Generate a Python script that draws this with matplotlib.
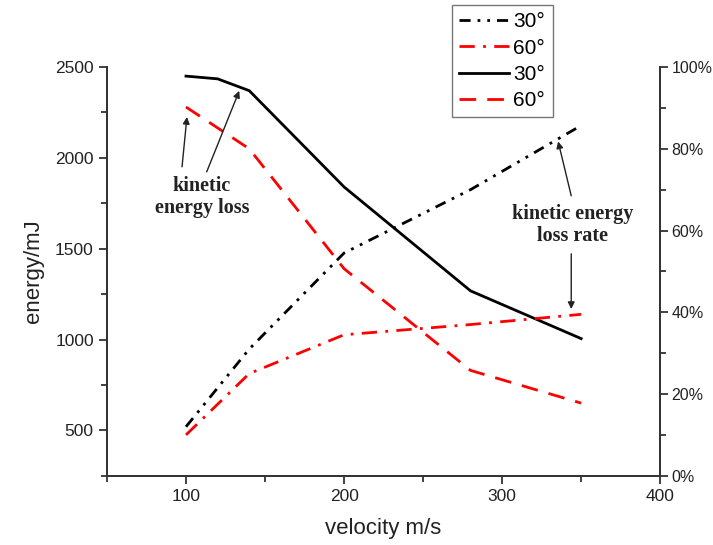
import matplotlib.pyplot as plt
from matplotlib.ticker import MultipleLocator, PercentFormatter

# energy loss (left axis, mJ)
v_loss30 = [100, 120, 140, 200, 280, 350]
loss30 = [2450, 2435, 2370, 1840, 1268, 1005]
v_loss60 = [100, 140, 200, 280, 350]
loss60 = [2280, 2050, 1390, 830, 650]

# energy loss rate (right axis, fraction)
v_rate30 = [100, 140, 200, 280, 350]
rate30 = [0.12, 0.31, 0.545, 0.70, 0.857]
v_rate60 = [100, 140, 200, 280, 350]
rate60 = [0.10, 0.25, 0.345, 0.37, 0.395]

legend_labels = ['30°', '60°', '30°', '60°']

plt.rcParams['font.family'] = ['Liberation Sans', 'DejaVu Sans']

fig = plt.figure(figsize=(7.13, 5.45), dpi=100)
ax = fig.add_axes([0.150, 0.127, 0.776, 0.750])
ax2 = ax.twinx()

lw = 2.0
l1, = ax2.plot(v_rate30, rate30, color='black', lw=lw, linestyle=(0, (4, 2.5, 1, 2.5, 1, 2.5)))
l2, = ax2.plot(v_rate60, rate60, color='red', lw=lw, linestyle=(0, (5.5, 3, 1, 3)))
l3, = ax.plot(v_loss30, loss30, color='black', lw=lw, linestyle='-')
l4, = ax.plot(v_loss60, loss60, color='red', lw=lw, linestyle=(0, (6, 4)))

ax.set_xlim(50, 400)
ax.set_ylim(250, 2500)
ax2.set_ylim(0, 1.0)

ax.xaxis.set_major_locator(MultipleLocator(100))
ax.xaxis.set_minor_locator(MultipleLocator(50))
ax.yaxis.set_major_locator(MultipleLocator(500))
ax.yaxis.set_minor_locator(MultipleLocator(250))
ax2.yaxis.set_major_locator(MultipleLocator(0.2))
ax2.yaxis.set_minor_locator(MultipleLocator(0.1))
ax2.yaxis.set_major_formatter(PercentFormatter(1.0, decimals=0))

for a in (ax, ax2):
    a.spines['top'].set_visible(False)
    for s in a.spines.values():
        s.set_color('#333333')
        s.set_linewidth(1.3)
    a.tick_params(which='major', direction='out', length=6, width=1.3, labelsize=12.5, colors='#333333')
    a.tick_params(which='minor', direction='out', length=4, width=1.3, colors='#333333')
ax.tick_params(axis='both', labelcolor='#222222')
ax2.tick_params(axis='y', labelcolor='#222222', labelsize=11.5, pad=2)

ax.set_xlabel('velocity m/s', fontsize=16, color='#222222', labelpad=10)
ax.set_ylabel('energy/mJ', fontsize=16, color='#222222', labelpad=8)

# annotations
ann_font = dict(family='Liberation Serif', weight='bold', fontsize=14.5, color='#222222')
ax.text(110, 2500 - (197 - 67) / 0.1815, 'kinetic\nenergy loss',
        ha='center', va='center', linespacing=1.15, **ann_font)
arrow = dict(arrowstyle='-|>', color='#222222', lw=1.0, mutation_scale=10, shrinkA=0, shrinkB=0)
ax.annotate('', xy=(100.6, 2225), xytext=(97.5, 1951), arrowprops=arrow)
ax.annotate('', xy=(133.7, 2369), xytext=(113.1, 1923), arrowprops=arrow)

ax2.text(344.6, 0.613, 'kinetic energy\nloss rate', ha='center', va='center',
         linespacing=1.15, **ann_font)
ax2.annotate('', xy=(335.4, 0.818), xytext=(343.7, 0.685), arrowprops=arrow)
ax2.annotate('', xy=(343.7, 0.408), xytext=(343.7, 0.543), arrowprops=arrow)

leg = fig.legend([l1, l2, l3, l4], legend_labels, loc='upper left',
                 bbox_to_anchor=(452 / 713, 1 - 5 / 545), fontsize=15,
                 frameon=True, fancybox=False, edgecolor='#555555',
                 handlelength=2.4, handletextpad=0.2, labelspacing=0.35,
                 borderpad=0.35, borderaxespad=0)
leg.get_frame().set_linewidth(1.0)

fig.savefig('out.png', dpi=100)
